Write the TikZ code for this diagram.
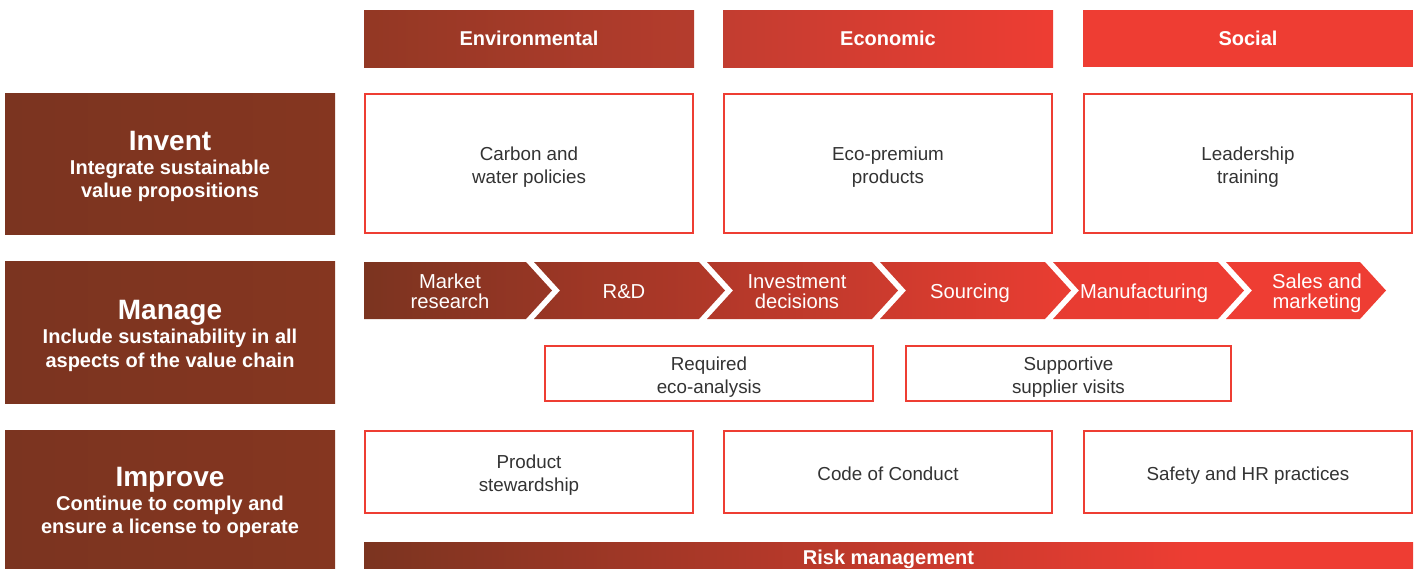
\documentclass[tikz,border=0pt]{standalone}
\usepackage{fontspec}
\setmainfont{Liberation Sans}
\definecolor{cbrown}{HTML}{7B3420}
\definecolor{cbrownR}{HTML}{853620}
\definecolor{cred}{HTML}{EE3D33}
\definecolor{ctext}{HTML}{333333}
\definecolor{hA}{RGB}{147,56,36}
\definecolor{hB}{RGB}{181,60,45}
\definecolor{hC}{RGB}{194,61,48}
\definecolor{kA}{RGB}{152,54,37}
\definecolor{kB}{RGB}{150,54,36}
\definecolor{kC}{RGB}{179,56,41}
\definecolor{kD}{RGB}{177,56,41}
\definecolor{kE}{RGB}{206,59,46}
\definecolor{kF}{RGB}{204,58,45}
\definecolor{kG}{RGB}{234,61,50}
\definecolor{kH}{RGB}{231,60,50}
\pgfdeclarehorizontalshading{riskshade}{100bp}{color(0bp)=(cbrown); color(25bp)=(cbrown); color(64.85bp)=(cred); color(100bp)=(cred)}
\newcommand\twol[2]{\begin{tabular}[t]{@{}c@{}}#1\\#2\end{tabular}}
\newcommand\btxt[1]{\raisebox{-1.75pt}[\height][\depth]{\begin{tabular}{@{}c@{}}#1\end{tabular}}}
\begin{document}
\begin{tikzpicture}[x=0.5pt,y=-0.5pt,
  wbox/.style={draw=cred, line width=0.6pt, fill=white, minimum width=164pt, inner sep=0pt, text=ctext, font=\fontsize{9.4}{11.5}\selectfont},
  hbox/.style={minimum width=165pt, minimum height=28.5pt, inner sep=0pt, text=white, font=\bfseries\fontsize{10}{12}\selectfont},
  lbox/.style={left color=cbrown, right color=cbrownR, minimum width=165pt, inner sep=0pt},
  ltitle/.style={anchor=base, inner sep=0pt, text=white, font=\bfseries\fontsize{14}{16}\selectfont},
  lsub/.style={anchor=base, inner sep=0pt, text=white, font=\bfseries\fontsize{10}{11.5}\selectfont},
  chevtext/.style={anchor=base, inner sep=0pt, text=white, font=\fontsize{10.1}{9.5}\selectfont}]
\useasboundingbox (0,0) rectangle (1420,568);

% header row
\node[hbox, left color=hA, right color=hB] (env) at (529,38.5) {Environmental};
\node[hbox, left color=hC, right color=cred] (eco) at (888,38.5) {Economic};
\node[hbox, fill=cred] (soc) at (1248,38.5) {Social};

% left boxes
\node[lbox, minimum height=70.5pt] (invent) at (170,163.5) {};
\node[ltitle] (inventT) at (170,150) {Invent};
\node[lsub] (inventS) at (170,174) {\twol{Integrate sustainable}{value propositions}};

\node[lbox, minimum height=71pt] (manage) at (170,332) {};
\node[ltitle] (manageT) at (170,319) {Manage};
\node[lsub, font=\bfseries\fontsize{10}{12}\selectfont] (manageS) at (170,343) {\twol{Include sustainability in all}{aspects of the value chain}};

\node[lbox, minimum height=71pt] (improve) at (170,501) {};
\node[ltitle] (improveT) at (170,486) {Improve};
\node[lsub] (improveS) at (170,510) {\twol{Continue to comply and}{ensure a license to operate}};

% invent row
\node[wbox, minimum height=69.5pt] (carbon) at (529,163.5) {\btxt{Carbon and\\water policies}};
\node[wbox, minimum height=69.5pt] (premium) at (888,163.5) {\btxt{Eco-premium\\products}};
\node[wbox, minimum height=69.5pt] (leader) at (1248,163.5) {\btxt{Leadership\\training}};

% value chain chevrons
\shade[left color=cbrown, right color=kA]
  (364,262) -- (526,262) -- (552,290.5) -- (526,319) -- (364,319) -- cycle;
\shade[left color=kB, right color=kC]
  (534,262) -- (699,262) -- (725,290.5) -- (699,319) -- (534,319) -- (560,290.5) -- cycle;
\shade[left color=kD, right color=kE]
  (707,262) -- (872,262) -- (898,290.5) -- (872,319) -- (707,319) -- (733,290.5) -- cycle;
\shade[left color=kF, right color=kG]
  (880,262) -- (1045,262) -- (1071,290.5) -- (1045,319) -- (880,319) -- (906,290.5) -- cycle;
\shade[left color=kH, right color=cred]
  (1053,262) -- (1218,262) -- (1244,290.5) -- (1218,319) -- (1053,319) -- (1079,290.5) -- cycle;
\fill[cred]
  (1226,262) -- (1360,262) -- (1386,290.5) -- (1360,319) -- (1226,319) -- (1252,290.5) -- cycle;

\node[chevtext] (market) at (450,288) {\twol{Market}{research}};
\node[chevtext] (rd) at (624,298) {R\&D};
\node[chevtext] (invest) at (797,288) {\twol{Investment}{decisions}};
\node[chevtext] (sourcing) at (970,298) {Sourcing};
\node[chevtext] (manuf) at (1144,298) {Manufacturing};
\node[chevtext] (sales) at (1317,288) {\twol{Sales and}{marketing}};

% manage row boxes
\node[wbox, minimum height=27.5pt] (required) at (709,373.5) {\btxt{Required\\eco-analysis}};
\node[wbox, minimum width=162.5pt, minimum height=27.5pt] (supplier) at (1068.5,373.5) {\btxt{Supportive\\supplier visits}};

% improve row
\node[wbox, minimum height=41pt] (steward) at (529,472) {\btxt{Product\\stewardship}};
\node[wbox, minimum height=41pt] (conduct) at (888,472) {\btxt{Code of Conduct}};
\node[wbox, minimum height=41pt] (safety) at (1248,472) {\btxt{Safety and HR practices}};

% risk bar
\node[shading=riskshade, minimum width=524.5pt, minimum height=15pt, inner sep=0pt, text depth=0pt, text=white, font=\bfseries\fontsize{10}{12}\selectfont] (risk) at (888.5,557) {Risk management};
\end{tikzpicture}
\end{document}
